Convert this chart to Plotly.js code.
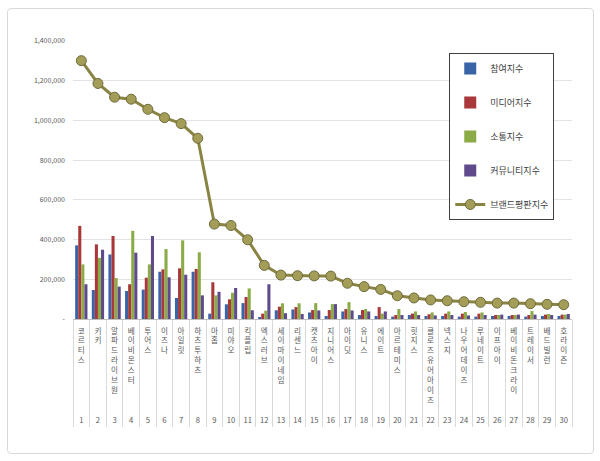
<!DOCTYPE html>
<html>
<head>
<meta charset="utf-8">
<script src="https://cdn.plot.ly/plotly-3.0.1.min.js"></script>
<style>
  body { margin: 0; background: #fff; }
  #wrap { position: relative; width: 600px; height: 461px; }
  #chart { width: 600px; height: 461px; }
  #frame {
    position: absolute; left: 7px; top: 8px; width: 585px; height: 444px;
    border: 1px solid #d9d9d9; border-radius: 4px; pointer-events: none;
  }
</style>
</head>
<body>
<div id="wrap">
  <div id="chart"></div>
  <div id="frame"></div>
</div>
<script>
// 보이그룹 브랜드평판 순위 (1~30위)
const ranks = ["1","2","3","4","5","6","7","8","9","10","11","12","13","14","15",
  "16","17","18","19","20","21","22","23","24","25","26","27","28","29","30"]
const names = ["코르티스","키키","알파드라이브원","베이비몬스터","투어스","이즈나","아일릿","하츠투하츠","아홉","미야오",
  "킥플립","엑스러브","세이마이네임","리센느","캣츠아이","지니어스","아이딧","유니스","에이트","아르테미스",
  "힛지스","클로즈유어아이즈","넥스지","나우어데이즈","루네이트","이프아이","베이비돈크라이","트레이서","배드빌런","호라이즌"]

const participation = [371000,146000,325000,141000,148000,238000,106000,238000,27000,74000,
  80000,10000,44000,48000,33000,15000,38000,20000,15000,12000,
  20000,15000,15000,12000,12000,15000,15000,12000,15000,15000]
const media = [469000,376000,418000,175000,208000,250000,255000,252000,185000,99000,
  111000,27000,62000,60000,45000,45000,50000,45000,60000,20000,
  27000,24000,27000,27000,27000,20000,20000,20000,22000,22000]
const communication = [275000,308000,206000,444000,275000,352000,396000,336000,119000,132000,
  154000,42000,79000,79000,80000,75000,85000,50000,27000,50000,
  38000,33000,38000,35000,33000,20000,20000,40000,25000,22000]
const community = [175000,349000,163000,334000,418000,210000,223000,119000,137000,156000,
  44000,175000,29000,25000,43000,75000,43000,38000,38000,20000,
  20000,18000,20000,18000,20000,22000,22000,22000,20000,25000]
const brandIndex = [1301000,1186000,1117000,1107000,1056000,1014000,984000,910000,478000,471000,
  399000,270000,221000,218000,217000,216000,180000,163000,149000,117000,
  106000,96000,92000,87000,84000,80000,80000,77000,74000,72000]

const seriesNames = ["참여지수","미디어지수","소통지수","커뮤니티지수","브랜드평판지수"]
const yTicks = [0,200000,400000,600000,800000,1000000,1200000,1400000]

const idx = ranks.map((r, i) => i)

// 글자를 세로로 쌓고, 아래에 순위 번호
const maxLen = Math.max(...names.map(n => n.length))
const tickText = names.map((n, i) => {
  const chars = n.split("")
  while (chars.length < maxLen + 1) chars.push(" ")
  return chars.join("<br>") + "<br>" + ranks[i]
})

const barColors = ["#3a64a8", "#a8383a", "#8aab45", "#5f4a8b"]
const barData = [participation, media, communication, community]

const data = barData.map((vals, k) => ({
  type: "bar",
  name: seriesNames[k],
  x: idx,
  y: vals,
  marker: { color: barColors[k], line: { width: 0 } },
  legendgroup: "g" + k
}))

data.push({
  type: "scatter",
  mode: "lines+markers",
  name: seriesNames[4],
  x: idx,
  y: brandIndex,
  line: { color: "#8a8444", width: 3 },
  marker: { size: 10, color: "#a39d58", line: { color: "#6e6a3c", width: 1 } },
  legendgroup: "g4"
})

const layout = {
  width: 600,
  height: 461,
  margin: { l: 73, r: 28, t: 41, b: 142 },
  paper_bgcolor: "#ffffff",
  plot_bgcolor: "#ffffff",
  font: { family: "Noto Sans CJK KR, Noto Sans, sans-serif", size: 8, color: "#595959" },
  barmode: "group",
  bargap: 0.26,
  bargroupgap: 0,
  showlegend: true,
  legend: {
    x: 0.754, y: 0.957, xanchor: "left", yanchor: "top",
    bgcolor: "#ffffff",
    bordercolor: "#404040",
    borderwidth: 1,
    traceorder: "grouped",
    tracegroupgap: 15,
    font: { size: 9, color: "#404040" }
  },
  xaxis: {
    type: "linear",
    range: [-0.5, 29.5],
    tickvals: idx.concat([29]).map((v, i) => i - 0.5),
    showticklabels: false,
    ticks: "outside",
    ticklen: 107,
    tickcolor: "#d9d9d9",
    tickwidth: 1,
    showgrid: false,
    zeroline: false,
    showline: true,
    linecolor: "#bfbfbf",
    linewidth: 1
  },
  xaxis2: {
    overlaying: "x",
    anchor: "y",
    side: "bottom",
    range: [-0.5, 29.5],
    tickvals: idx,
    ticktext: tickText,
    ticks: "",
    ticklabelstandoff: 6,
    showgrid: false,
    zeroline: false,
    showline: false,
    tickfont: { size: 7.6, color: "#595959" }
  },
  yaxis: {
    range: [0, 1400000],
    tickvals: yTicks,
    ticktext: yTicks.map(v => v === 0 ? "-" : v.toLocaleString("en-US")),
    showgrid: true,
    gridcolor: "#e3e3e3",
    zeroline: false,
    showline: false,
    ticks: "",
    ticklabelstandoff: 7,
    tickfont: { size: 7, color: "#595959" }
  }
}

// xaxis2용 보이지 않는 트레이스
data.push({
  type: "scatter", x: idx, y: idx.map(() => null), xaxis: "x2",
  showlegend: false, hoverinfo: "skip"
})

Plotly.newPlot("chart", data, layout, { displayModeBar: false, staticPlot: true })
</script>
</body>
</html>
